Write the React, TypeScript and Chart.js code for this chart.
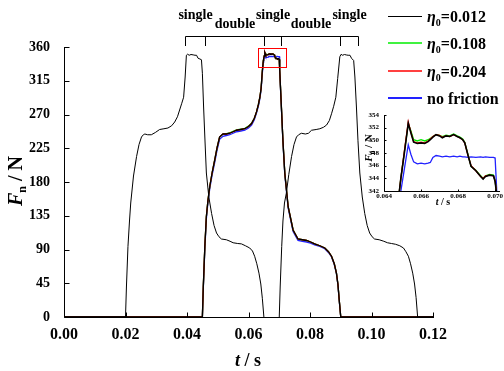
import React, { useEffect, useRef } from "react";
import { Chart, registerables } from "chart.js";
Chart.register(...registerables);

// ---------- data ----------
// first step (η0 = 0.012 only, black)
const step1T = [0, 0.0200, 0.0203, 0.0208, 0.0213, 0.0217, 0.0226, 0.0236, 0.0244, 0.0252, 0.0258, 0.0263, 0.0272, 0.0284, 0.0297, 0.0311, 0.0325, 0.0338, 0.0350, 0.0360, 0.0369, 0.0376, 0.0383, 0.0389, 0.0394, 0.0398, 0.0402, 0.0407, 0.0413, 0.0420, 0.0426, 0.0431, 0.0436, 0.0442, 0.0447, 0.0450, 0.0454, 0.0458, 0.0463, 0.0471, 0.0480, 0.0488, 0.0496, 0.0504, 0.0512, 0.0528, 0.0540, 0.0550, 0.0565, 0.0577, 0.0590, 0.0604, 0.0613, 0.0620, 0.0627, 0.0634, 0.0640, 0.0645, 0.0650];
const step1F = [0, 0, 40, 94, 128, 152, 188, 214, 230, 240, 243, 244, 243, 243, 246, 250, 251, 252, 255, 260, 267, 276, 285, 293, 320, 349, 350.4, 349, 350, 349.5, 349, 349, 345, 344, 343, 325, 280, 240, 192, 160, 138, 122, 112, 107, 104, 103, 101, 99, 98, 97.5, 95, 92, 88, 81, 71, 58.5, 44, 25, 0];

// third step (η0 = 0.012 only, black)
const step3T = [0.0700, 0.0703, 0.0708, 0.0712, 0.0717, 0.0723, 0.0731, 0.0740, 0.0748, 0.0756, 0.0763, 0.0772, 0.0785, 0.0795, 0.0805, 0.0820, 0.0832, 0.0844, 0.0854, 0.0863, 0.0870, 0.0877, 0.0884, 0.0890, 0.0897, 0.0901, 0.0906, 0.0912, 0.0918, 0.0924, 0.0930, 0.0935, 0.0942, 0.0946, 0.0951, 0.0956, 0.0962, 0.0970, 0.0978, 0.0986, 0.0994, 0.1002, 0.1010, 0.1025, 0.1040, 0.1052, 0.1065, 0.1078, 0.1092, 0.1104, 0.1112, 0.1120, 0.1127, 0.1134, 0.1140, 0.1145, 0.1150, 0.1200];
const step3F = [0, 40, 94, 128, 152, 165, 190, 214, 230, 240, 243, 245, 244, 245, 249, 250, 251, 253, 256, 262, 271, 281, 293, 318, 347, 350.2, 349, 350, 349.4, 349, 349, 345, 342, 320, 280, 235, 192, 160, 138, 122, 112, 107, 104, 103, 101, 99, 98, 97, 95, 92, 87, 81, 71, 58.5, 44, 26, 0, 0];

// middle step: all friction cases
const midT = [0, 0.0450, 0.0453, 0.0458, 0.0463, 0.0468, 0.0474, 0.0482, 0.0490, 0.0498, 0.0506, 0.0517, 0.0528, 0.0539, 0.0550, 0.0561, 0.0575, 0.0588, 0.0600, 0.0610, 0.0619, 0.0626, 0.0632, 0.0637, 0.0641, 0.0645, 0.06483, 0.06491, 0.0651, 0.06531, 0.06545, 0.06560, 0.06580, 0.06600, 0.06620, 0.06638, 0.06650, 0.06664, 0.06681, 0.06700, 0.06715, 0.06735, 0.06755, 0.06776, 0.06795, 0.06810, 0.06825, 0.06836, 0.06853, 0.06870, 0.06896, 0.06922, 0.06935, 0.06948, 0.06970, 0.06991, 0.07000, 0.07008, 0.07020, 0.0707, 0.0712, 0.0718, 0.0729, 0.0745, 0.0761, 0.0775, 0.0789, 0.0802, 0.0815, 0.0832, 0.0848, 0.0860, 0.0870, 0.0879, 0.0886, 0.0891, 0.0895, 0.0900, 0.1200];
const midF012 = [0, 0, 40, 94, 134, 155, 174, 193, 209, 226, 240, 244, 244, 245, 247, 249, 250, 251, 254, 258, 265, 273.5, 283, 293, 305, 328, 342, 344, 348, 352.7, 351.2, 349.7, 349.5, 349.6, 349.5, 349.8, 350.1, 350.5, 350.9, 350.7, 350.4, 350.7, 350.6, 350.9, 350.6, 350.4, 350.1, 349.6, 347.7, 345.9, 345.2, 344.3, 343.9, 344.3, 344.5, 344.4, 343.5, 341.5, 330, 280, 235, 192, 147, 116, 104, 103, 102, 100, 97.5, 95, 92, 87, 81, 71, 58.5, 43, 23, 0, 0];
const midF108 = [0, 0, 40, 94, 134, 155, 174, 193, 209, 226, 240, 244, 244.5, 245.5, 247.5, 249.5, 250.5, 251.5, 254.5, 258.5, 265, 273.5, 283, 293, 305, 328, 342, 344, 348.2, 352.6, 351.5, 350.1, 349.9, 350.1, 349.9, 350.1, 350.3, 350.6, 350.9, 350.8, 350.6, 350.8, 350.7, 351.0, 350.7, 350.5, 350.2, 349.7, 347.8, 345.9, 345.3, 344.4, 344.0, 344.4, 344.6, 344.5, 343.6, 341.6, 330, 280, 235, 192, 147, 116, 104, 103, 102, 100, 97.5, 95, 92, 87, 81, 71, 58.5, 43, 23, 0, 0];
const midF204 = [0, 0, 40, 94, 134, 155, 174, 193, 209, 226, 240, 244, 244, 245, 247, 249, 250, 251, 254, 258, 265, 273.5, 283, 293, 305, 328, 342, 344, 348.3, 352.9, 351.3, 349.8, 349.6, 349.7, 349.6, 349.9, 350.2, 350.6, 350.9, 350.8, 350.5, 350.7, 350.6, 350.9, 350.6, 350.4, 350.1, 349.6, 347.7, 346.0, 345.2, 344.3, 344.0, 344.4, 344.5, 344.4, 343.6, 341.6, 330, 280, 235, 192, 147, 116, 104, 103, 102, 100, 97.5, 95, 92, 87, 81, 71, 58.5, 43, 23, 0, 0];
const midFNone = [0, 0, 38, 91, 131, 152, 171, 190, 206, 223, 237, 241, 242, 243, 245, 247, 248, 249, 252, 256, 263, 272, 281, 291, 303, 325, 339.5, 342, 345.5, 349.3, 347.8, 346.6, 346.3, 346.4, 346.3, 346.4, 346.5, 347.3, 347.6, 347.5, 347.4, 347.5, 347.4, 347.5, 347.4, 347.5, 347.4, 347.4, 347.3, 347.4, 347.3, 347.4, 347.3, 347.4, 347.3, 347.3, 347.2, 342.5, 329, 278, 233, 190, 145, 114, 102, 101, 100, 98.5, 96, 94, 91, 86, 80, 70, 58, 42, 22, 0, 0];

const legendNames = ["0.012", "0.108", "0.204", "no friction"];
const legendColors = ["#000000", "#00ee00", "#ff0000", "#2222ff"];

const phaseT = [0.0395, 0.0457, 0.0650, 0.0705, 0.0897, 0.0955];
const phaseLabels = ["single", "double", "single", "double", "single"];

const zoomBoxT = [0.0631, 0.0721];
const zoomBoxF = [333, 358];

// inset axis
const insetTRange = [0.064, 0.0702];
const insetTStep = 0.002;
const insetFRange = [342, 354];

// ---------- helpers ----------
const SERIF = '"Liberation Serif", "Times New Roman", serif';
const pts = (t: number[], f: number[]) => t.map((x, i) => ({ x, y: f[i] }));

type Part = { text: string; size: number; italic?: boolean; dy?: number };
function fontOf(p: Part) {
  return `${p.italic ? "italic " : ""}bold ${p.size}px ${SERIF}`;
}
function drawRich(ctx: CanvasRenderingContext2D, parts: Part[], x: number, y: number, align: "left" | "center") {
  let w = 0;
  for (const p of parts) {
    ctx.font = fontOf(p);
    w += ctx.measureText(p.text).width;
  }
  let cx = align === "center" ? x - w / 2 : x;
  ctx.textAlign = "left";
  ctx.textBaseline = "alphabetic";
  ctx.fillStyle = "#000";
  for (const p of parts) {
    ctx.font = fontOf(p);
    ctx.fillText(p.text, cx, y + (p.dy || 0));
    cx += ctx.measureText(p.text).width;
  }
}

function axesPlugin(id: string, tickLen: number) {
  return {
    id,
    afterDatasetsDraw(chart: any) {
      const { ctx, chartArea: a, scales } = chart;
      const x = scales.x, y = scales.y;
      const L = Math.round(a.left) + 0.5;
      const B = Math.round(a.bottom) + 0.5;
      ctx.save();
      ctx.strokeStyle = "#000";
      ctx.lineWidth = 1;
      ctx.beginPath();
      ctx.moveTo(L, Math.round(a.top));
      ctx.lineTo(L, B);
      ctx.lineTo(Math.round(a.right) + 1, B);
      ctx.stroke();
      ctx.beginPath();
      for (const t of x.ticks) {
        const px = Math.round(x.getPixelForValue(t.value)) + 0.5;
        ctx.moveTo(px, B);
        ctx.lineTo(px, B - tickLen);
      }
      for (const t of y.ticks) {
        const py = Math.round(y.getPixelForValue(t.value)) + 0.5;
        ctx.moveTo(L, py);
        ctx.lineTo(L + tickLen, py);
      }
      ctx.stroke();
      ctx.restore();
    },
  };
}

const mainDecor = {
  id: "mainDecor",
  afterDraw(chart: any) {
    const { ctx, scales } = chart;
    const x = scales.x, y = scales.y;
    ctx.save();
    // axis titles
    drawRich(ctx, [
      { text: "t", size: 18, italic: true },
      { text: " / s", size: 18 },
    ], 248, 366, "center");
    ctx.save();
    ctx.translate(15, 181);
    ctx.rotate(-Math.PI / 2);
    drawRich(ctx, [
      { text: "F", size: 20, italic: true },
      { text: "n", size: 12, dy: 4 },
      { text: " / N", size: 20 },
    ], 0, 7, "center");
    ctx.restore();

    // phase bracket
    ctx.strokeStyle = "#000";
    ctx.lineWidth = 1;
    const px = phaseT.map((t) => Math.round(x.getPixelForValue(t)) + 0.5);
    ctx.beginPath();
    ctx.moveTo(px[0], 36.5);
    ctx.lineTo(px[px.length - 1], 36.5);
    for (const p of px) {
      ctx.moveTo(p, 36.5);
      ctx.lineTo(p, 46);
    }
    ctx.stroke();
    phaseLabels.forEach((lab, i) => {
      const mid = (px[i] + px[i + 1]) / 2;
      drawRich(ctx, [{ text: lab, size: 14 }], mid, lab === "single" ? 19 : 27.5, "center");
    });

    // zoom box
    const bx0 = Math.round(x.getPixelForValue(zoomBoxT[0])) + 0.5;
    const bx1 = Math.round(x.getPixelForValue(zoomBoxT[1])) + 0.5;
    const by0 = Math.round(y.getPixelForValue(zoomBoxF[1])) + 0.5;
    const by1 = Math.round(y.getPixelForValue(zoomBoxF[0])) + 0.5;
    ctx.strokeStyle = "#ff0000";
    ctx.lineWidth = 1;
    ctx.strokeRect(bx0, by0, bx1 - bx0, by1 - by0);

    // legend
    const rows = [16, 43, 71, 98];
    legendNames.forEach((name, i) => {
      ctx.strokeStyle = legendColors[i];
      ctx.lineWidth = i === 3 ? 2 : i === 0 ? 1 : 1.6;
      ctx.beginPath();
      ctx.moveTo(388, rows[i] + (i === 0 ? 0.5 : 0));
      ctx.lineTo(422, rows[i] + (i === 0 ? 0.5 : 0));
      ctx.stroke();
      const base = rows[i] + 5.5;
      if (i < 3) {
        drawRich(ctx, [
          { text: "η", size: 16, italic: true },
          { text: "0", size: 10, dy: 4 },
          { text: "=" + name, size: 16 },
        ], 427, base, "left");
      } else {
        drawRich(ctx, [{ text: name, size: 16 }], 427, base, "left");
      }
    });
    ctx.restore();
  },
};

const insetDecor = {
  id: "insetDecor",
  afterDraw(chart: any) {
    const { ctx } = chart;
    ctx.save();
    drawRich(ctx, [
      { text: "t", size: 10, italic: true },
      { text: " / s", size: 10 },
    ], 88, 100, "center");
    ctx.save();
    ctx.translate(13, 43);
    ctx.rotate(-Math.PI / 2);
    drawRich(ctx, [
      { text: "F", size: 11, italic: true },
      { text: "n", size: 7, dy: 2 },
      { text: " / N", size: 11 },
    ], 0, 4, "center");
    ctx.restore();
    ctx.restore();
  },
};

function makeDatasets(inset: boolean) {
  const line = (data: any, color: string, w: number) => ({
    data,
    borderColor: color,
    backgroundColor: color,
    borderWidth: w,
    pointRadius: 0,
    tension: 0,
    fill: false,
  });
  const out: any[] = [
    line(pts(midT, midF012), "#000000", inset ? 1.6 : 1.3),
    line(pts(step1T, step1F), "#000000", 1),
    line(pts(step3T, step3F), "#000000", 1),
    line(pts(midT, midF204), "#ff0000", 1.3),
    line(pts(midT, midF108), "#00ee00", 1.3),
    line(pts(midT, midFNone), "#2222ff", 1.3),
  ];
  return out;
}

export default function App() {
  const mainRef = useRef<HTMLCanvasElement>(null);
  const insetRef = useRef<HTMLCanvasElement>(null);

  useEffect(() => {
    const main = new Chart(mainRef.current!, {
      type: "line",
      data: { datasets: makeDatasets(false) },
      options: {
        responsive: false,
        animation: false,
        events: [],
        layout: { padding: { left: 0, right: 71, top: 47, bottom: 0 } },
        plugins: { legend: { display: false }, tooltip: { enabled: false } },
        scales: {
          x: {
            type: "linear",
            min: 0,
            max: 0.12,
            grid: { display: false, drawTicks: false },
            border: { display: false },
            afterFit: (s: any) => { s.height = 54; },
            ticks: {
              stepSize: 0.02,
              padding: 8,
              color: "#000",
              font: { family: SERIF, size: 16, weight: "bold" },
              callback: (v: any) => Number(v).toFixed(2),
              maxRotation: 0,
            },
          },
          y: {
            type: "linear",
            min: 0,
            max: 360,
            grid: { display: false, drawTicks: false },
            border: { display: false },
            afterFit: (s: any) => { s.width = 64; },
            ticks: {
              stepSize: 45,
              padding: 14,
              color: "#000",
              font: { family: SERIF, size: 14, weight: "bold" },
            },
          },
        },
      },
      plugins: [axesPlugin("mainAxes", 5), mainDecor],
    } as any);

    const inset = new Chart(insetRef.current!, {
      type: "line",
      data: { datasets: makeDatasets(true) },
      options: {
        responsive: false,
        animation: false,
        events: [],
        layout: { padding: { left: 0, right: 0, top: 10, bottom: 0 } },
        plugins: { legend: { display: false }, tooltip: { enabled: false } },
        scales: {
          x: {
            type: "linear",
            min: insetTRange[0],
            max: insetTRange[1],
            grid: { display: false, drawTicks: false },
            border: { display: false },
            afterFit: (s: any) => { s.height = 19; },
            afterBuildTicks: (s: any) => {
              s.ticks = s.ticks.filter((t: any) => {
                const k = t.value / insetTStep;
                return Math.abs(k - Math.round(k)) < 1e-6;
              });
            },
            ticks: {
              stepSize: insetTStep,
              includeBounds: false,
              padding: 1,
              color: "#000",
              font: { family: SERIF, size: 7, weight: "bold" },
              callback: (v: any) => Number(v).toFixed(3),
              maxRotation: 0,
              autoSkip: false,
            },
          },
          y: {
            type: "linear",
            min: insetFRange[0],
            max: insetFRange[1],
            grid: { display: false, drawTicks: false },
            border: { display: false },
            afterFit: (s: any) => { s.width = 29; },
            ticks: {
              stepSize: 2,
              padding: 5,
              color: "#000",
              font: { family: SERIF, size: 7, weight: "bold" },
            },
          },
        },
      },
      plugins: [axesPlugin("insetAxes", 2), insetDecor],
    } as any);

    return () => {
      main.destroy();
      inset.destroy();
    };
  }, []);

  return (
    <div style={{ position: "absolute", left: 0, top: 0, width: 504, height: 371, background: "#fff" }}>
      <canvas ref={mainRef} width={504} height={371} style={{ position: "absolute", left: 0, top: 0 }} />
      <canvas ref={insetRef} width={149} height={105} style={{ position: "absolute", left: 355, top: 105 }} />
    </div>
  );
}
